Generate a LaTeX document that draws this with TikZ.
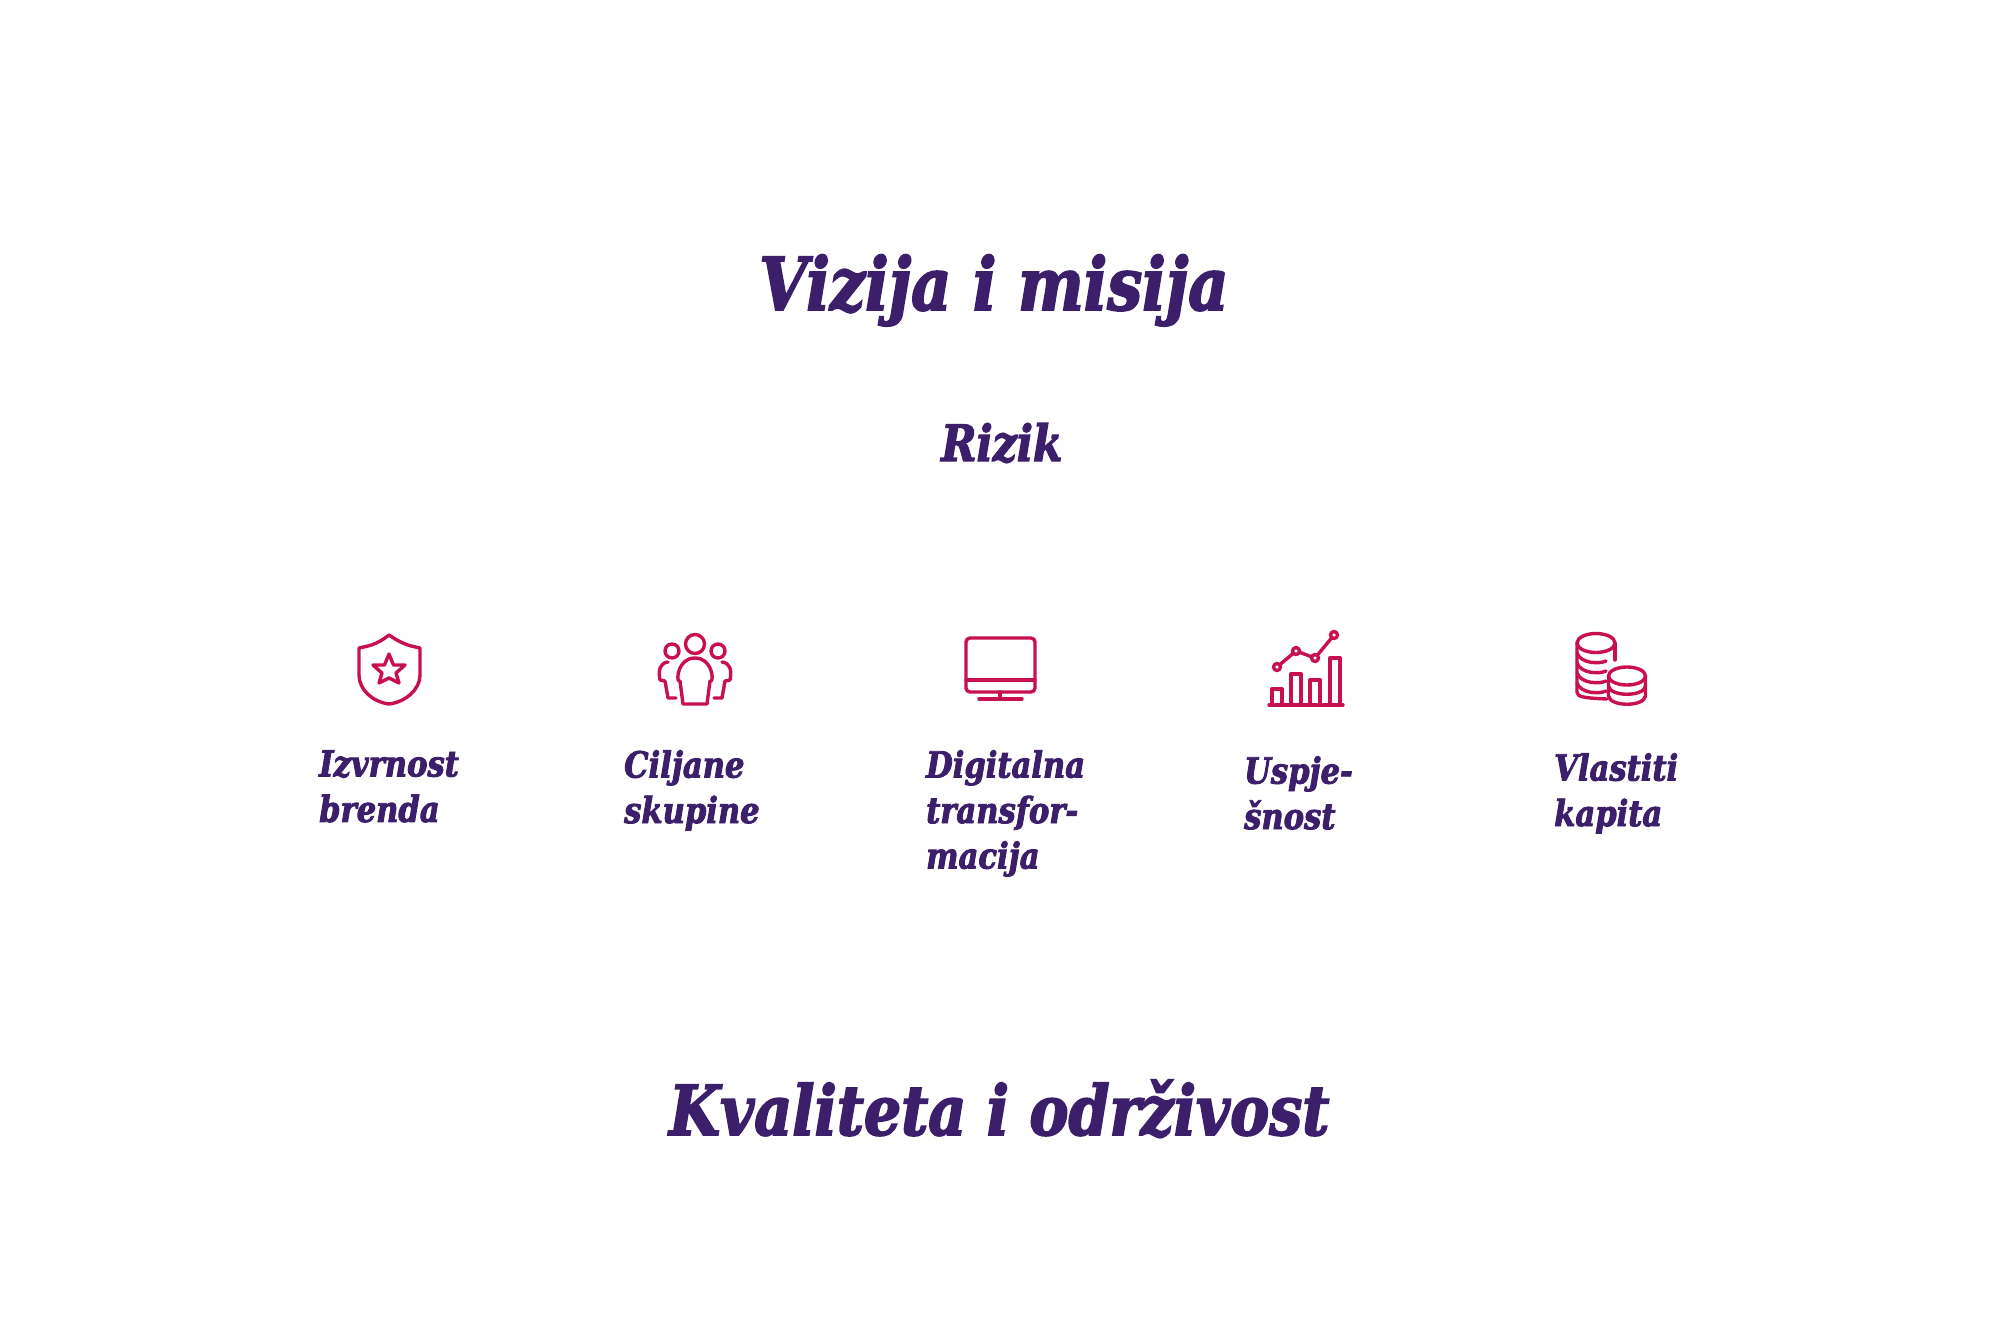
\documentclass[tikz,border=0pt]{standalone}
\usepackage{fontspec}
\setmainfont{DejaVu Serif}[BoldItalicFeatures={FakeBold=2.4, FakeStretch=0.85}]
\usetikzlibrary{positioning}
\definecolor{titlepurple}{HTML}{3C1F6B}
\definecolor{iconred}{HTML}{C8104F}
\tikzset{
    bigtitle/.style={font=\bfseries\itshape\fontsize{73}{76}\selectfont, text=titlepurple, anchor=base west, inner sep=0pt},
    subtitle/.style={font=\bfseries\itshape\fontsize{50}{54}\selectfont, text=titlepurple, anchor=base west, inner sep=0pt},
    itemlabel/.style={font=\bfseries\itshape\fontsize{36}{45.5}\selectfont, text=titlepurple, anchor=north west, inner sep=0pt, align=left},
    iconline/.style={draw=iconred, line width=3.4pt, line join=round, line cap=round}
}

\begin{document}
\begin{tikzpicture}[x=1pt, y=-1pt]
    \useasboundingbox (0,0) rectangle (2000,1333);

    \node[bigtitle] (vision) at (759,310) {Vizija i misija};
    \node[subtitle] (risk) at (941,461) {Rizik};
    \node[bigtitle, font=\bfseries\itshape\fontsize{69}{74}\selectfont] (quality) at (669,1135) {Kvaliteta i održivost};

    % labels
    \node[itemlabel] (brand) at (319,750) {Izvrnost\\brenda};
    \node[itemlabel] (groups) at (624,750) {Ciljane\\skupine};
    \node[itemlabel] (digital) at (926,750) {Digitalna\\transfor-\\macija};
    \node[itemlabel] (success) at (1244,756) {Uspje-\\šnost};
    \node[itemlabel] (capital) at (1554,753) {Vlastiti\\kapita};

    % shield
    \draw[iconline] (389,635) .. controls (405,646) and (412,646) .. (420,648)
        -- (420,675) .. controls (420,690) and (405,702) .. (389,704)
        .. controls (373,702) and (359,690) .. (359,675) -- (359,648)
        .. controls (367,646) and (375,646) .. (389,635) -- cycle;
    \draw[iconline] (389,654) -- (393.5,665) -- (405,665) -- (396,673) -- (399,683)
        -- (389,678) -- (379,683) -- (382,673) -- (373,665) -- (384.5,665) -- cycle;

    % people
    \draw[iconline] (695,644) circle (9.5);
    \draw[iconline] (672,651) circle (7);
    \draw[iconline] (718,651) circle (7);
    \draw[iconline] (683,704) -- (680,681) -- (679,681) .. controls (676,680) and (678,658) .. (695,658)
        .. controls (712,658) and (714,680) .. (711,681) -- (710,681) -- (707,704) -- cycle;
    \draw[iconline] (676,698) -- (668,698) -- (665,681) -- (660,680) .. controls (658,670) and (660,663) .. (668,662);
    \draw[iconline] (714,698) -- (722,698) -- (725,681) -- (730,680) .. controls (732,670) and (730,663) .. (722,662);

    % monitor
    \draw[iconline, rounded corners=4pt] (966,638) rectangle (1035,692);
    \draw[iconline] (966,680) -- (1035,680);
    \draw[iconline] (1000,692) -- (1000,699);
    \draw[iconline] (979,699) -- (1022,699);

    % chart
    \draw[iconline] (1269,705) -- (1343,705);
    \foreach \x/\h/\w in {1272/689/1282, 1291/674/1301, 1310/680/1320, 1330/658/1340}
        \draw[iconline] (\x,705) -- (\x,\h) -- (\w,\h) -- (\w,705);
    \draw[iconline] (1277,667) -- (1296,651) -- (1315,658) -- (1334,635);
    \foreach \x/\y in {1277/667, 1296/651, 1315/658, 1334/635}
        \draw[iconline, fill=white] (\x,\y) circle (3.5);

    % coins
    \draw[iconline] (1596,643) ellipse (19 and 9.5);
    \draw[iconline] (1577,643) -- (1577,692) .. controls (1577,697) and (1584,698) .. (1607,699);
    \draw[iconline] (1615,643) -- (1615,660);
    \foreach \y in {653,663,673,683}
        \draw[iconline] (1577,\y) .. controls (1581,\y+11) and (1600,\y+11) .. (1606,\y+8);
    \draw[iconline] (1627,676) ellipse (18.5 and 9);
    \draw[iconline] (1608.5,676) -- (1608.5,696) .. controls (1610,707) and (1644,707) .. (1645.5,696) -- (1645.5,676);
    \draw[iconline] (1608.5,686) .. controls (1610,697) and (1644,697) .. (1645.5,686);

\end{tikzpicture}
\end{document}
